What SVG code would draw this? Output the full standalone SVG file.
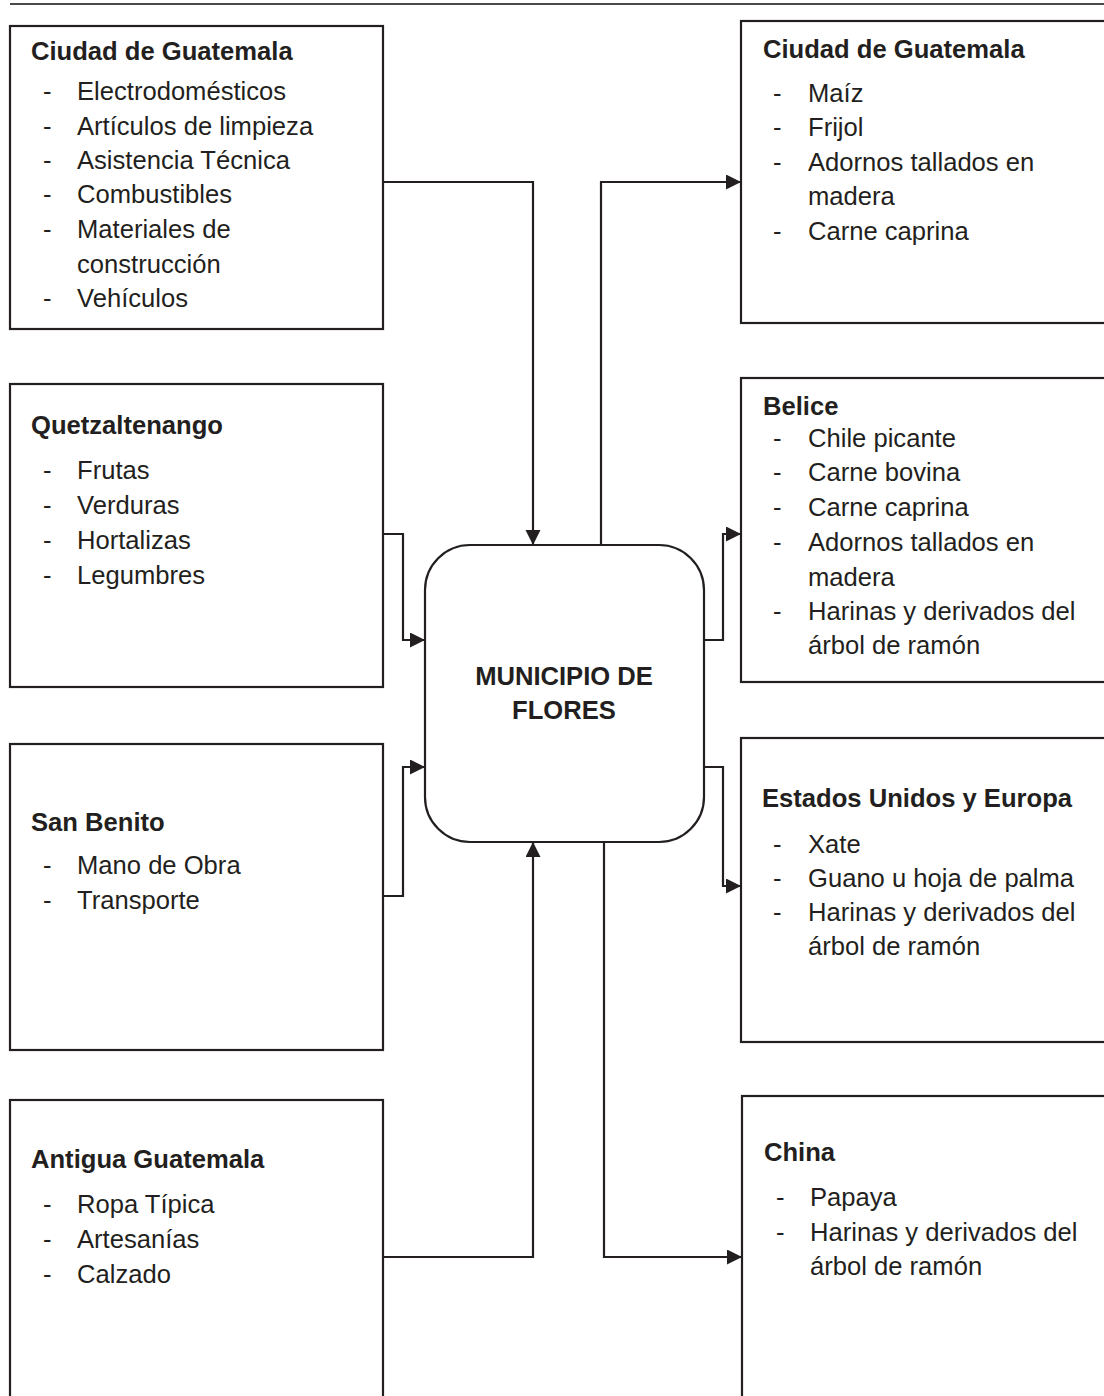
<svg xmlns="http://www.w3.org/2000/svg" width="1104" height="1396" viewBox="0 0 1104 1396">
<style>
.box{fill:#fff;stroke:#231f20;stroke-width:2.2}
.t{font-family:"Liberation Sans",Arial,sans-serif;font-size:25.6px;fill:#231f20}
.b{font-weight:bold}
.c{fill:none;stroke:#231f20;stroke-width:2.2}
</style>
<defs>
<marker id="ah" markerUnits="userSpaceOnUse" markerWidth="16" markerHeight="16" refX="15" refY="7.5" orient="auto">
<path d="M0,0 L15,7.5 L0,15 Z" fill="#231f20"/>
</marker>
</defs>
<rect width="1104" height="1396" fill="#fff"/>
<line x1="10" y1="4" x2="1104" y2="4" stroke="#4a4a4a" stroke-width="2"/>

<g id="connectors">
<polyline class="c" points="383,182 533,182 533,545" marker-end="url(#ah)"/>
<polyline class="c" points="601,545 601,182 741,182" marker-end="url(#ah)"/>
<polyline class="c" points="383,534 403,534 403,640 425,640" marker-end="url(#ah)"/>
<polyline class="c" points="383,896 403,896 403,767 425,767" marker-end="url(#ah)"/>
<polyline class="c" points="383,1257 533,1257 533,842" marker-end="url(#ah)"/>
<polyline class="c" points="604,842 604,1257 742,1257" marker-end="url(#ah)"/>
<polyline class="c" points="704,640 723,640 723,534 741,534" marker-end="url(#ah)"/>
<polyline class="c" points="704,767 723,767 723,886 741,886" marker-end="url(#ah)"/>
</g>

<g id="center">
<rect class="box" x="425" y="545" width="279" height="297" rx="45" ry="45"/>
<text class="t b" x="564" y="685" text-anchor="middle">MUNICIPIO DE</text>
<text class="t b" x="564" y="719" text-anchor="middle">FLORES</text>
</g>

<g id="ciudad-in">
<rect class="box" x="10" y="26" width="373" height="303"/>
<text class="t b" x="31" y="60">Ciudad de Guatemala</text>
<g class="t">
<text x="43" y="100">-</text><text x="77" y="100">Electrodomésticos</text>
<text x="43" y="135">-</text><text x="77" y="135">Artículos de limpieza</text>
<text x="43" y="169">-</text><text x="77" y="169">Asistencia Técnica</text>
<text x="43" y="203">-</text><text x="77" y="203">Combustibles</text>
<text x="43" y="238">-</text><text x="77" y="238">Materiales de</text>
<text x="77" y="273">construcción</text>
<text x="43" y="307">-</text><text x="77" y="307">Vehículos</text>
</g>
</g>

<g id="quetzaltenango">
<rect class="box" x="10" y="384" width="373" height="303"/>
<text class="t b" x="31" y="434">Quetzaltenango</text>
<g class="t">
<text x="43" y="479">-</text><text x="77" y="479">Frutas</text>
<text x="43" y="514">-</text><text x="77" y="514">Verduras</text>
<text x="43" y="549">-</text><text x="77" y="549">Hortalizas</text>
<text x="43" y="584">-</text><text x="77" y="584">Legumbres</text>
</g>
</g>

<g id="san-benito">
<rect class="box" x="10" y="744" width="373" height="306"/>
<text class="t b" x="31" y="831">San Benito</text>
<g class="t">
<text x="43" y="874">-</text><text x="77" y="874">Mano de Obra</text>
<text x="43" y="909">-</text><text x="77" y="909">Transporte</text>
</g>
</g>

<g id="antigua">
<rect class="box" x="10" y="1100" width="373" height="320"/>
<text class="t b" x="31" y="1168">Antigua Guatemala</text>
<g class="t">
<text x="43" y="1213">-</text><text x="77" y="1213">Ropa Típica</text>
<text x="43" y="1248">-</text><text x="77" y="1248">Artesanías</text>
<text x="43" y="1283">-</text><text x="77" y="1283">Calzado</text>
</g>
</g>

<g id="ciudad-out">
<rect class="box" x="741" y="21" width="380" height="302"/>
<text class="t b" x="763" y="58">Ciudad de Guatemala</text>
<g class="t">
<text x="773" y="102">-</text><text x="808" y="102">Maíz</text>
<text x="773" y="136">-</text><text x="808" y="136">Frijol</text>
<text x="773" y="171">-</text><text x="808" y="171">Adornos tallados en</text>
<text x="808" y="205">madera</text>
<text x="773" y="240">-</text><text x="808" y="240">Carne caprina</text>
</g>
</g>

<g id="belice">
<rect class="box" x="741" y="378" width="380" height="304"/>
<text class="t b" x="763" y="415">Belice</text>
<g class="t">
<text x="773" y="447">-</text><text x="808" y="447">Chile picante</text>
<text x="773" y="481">-</text><text x="808" y="481">Carne bovina</text>
<text x="773" y="516">-</text><text x="808" y="516">Carne caprina</text>
<text x="773" y="551">-</text><text x="808" y="551">Adornos tallados en</text>
<text x="808" y="586">madera</text>
<text x="773" y="620">-</text><text x="808" y="620">Harinas y derivados del</text>
<text x="808" y="654">árbol de ramón</text>
</g>
</g>

<g id="eeuu-europa">
<rect class="box" x="741" y="738" width="380" height="304"/>
<text class="t b" x="762" y="807">Estados Unidos y Europa</text>
<g class="t">
<text x="773" y="853">-</text><text x="808" y="853">Xate</text>
<text x="773" y="887">-</text><text x="808" y="887">Guano u hoja de palma</text>
<text x="773" y="921">-</text><text x="808" y="921">Harinas y derivados del</text>
<text x="808" y="955">árbol de ramón</text>
</g>
</g>

<g id="china">
<rect class="box" x="742" y="1096" width="380" height="320"/>
<text class="t b" x="764" y="1161">China</text>
<g class="t">
<text x="776" y="1206">-</text><text x="810" y="1206">Papaya</text>
<text x="776" y="1241">-</text><text x="810" y="1241">Harinas y derivados del</text>
<text x="810" y="1275">árbol de ramón</text>
</g>
</g>
</svg>
